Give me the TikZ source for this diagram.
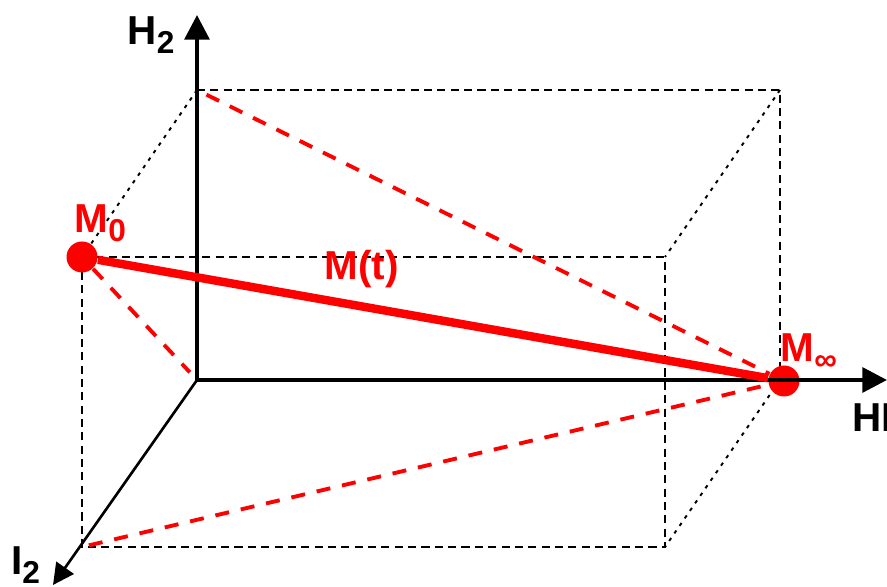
\documentclass[tikz,border=0pt]{standalone}
\usepackage{fontspec}
\setmainfont{Liberation Sans}
\usetikzlibrary{calc,arrows.meta}

\newcommand{\lowidx}[1]{\raisebox{-2.3pt}{\fontsize{9}{10}\selectfont #1}}

\begin{document}
\begin{tikzpicture}[
  boxedge/.style={black,line width=0.8pt,dash pattern=on 2.3pt off 1.5pt},
  depthedge/.style={black,line width=0.55pt,dash pattern=on 1pt off 1.6pt},
  redpath/.style={red,line width=1.1pt,dash pattern=on 4pt off 3.4pt},
  axis/.style={black,line width=1.2pt,-{Triangle[length=7pt,width=7pt]}},
  lbl/.style={font=\bfseries\fontsize{11.5}{13}\selectfont,inner sep=0pt,anchor=base west},
  dot/.style={circle,fill=red,minimum size=0.31cm,inner sep=0pt}
]
\useasboundingbox (0,0) rectangle (8.87,5.87);
% back corners and origin
\coordinate (O) at (1.97,2.07);
\coordinate (BTL) at (1.97,4.97);
\coordinate (BTR) at (7.80,4.97);
\coordinate (BBR) at (7.80,2.07);
% front corners
\coordinate (FTL) at ($(BTL)+(-1.15,-1.67)$);
\coordinate (FTR) at ($(BTR)+(-1.15,-1.67)$);
\coordinate (FBR) at ($(BBR)+(-1.15,-1.67)$);
\coordinate (FBL) at ($(O)+(-1.15,-1.67)$);
\coordinate (Htip) at (1.97,5.72);
\coordinate (HItip) at (8.87,2.07);
\coordinate (Itip) at (0.53,0.02);

\draw[boxedge] (BTL) -- (BTR) -- (BBR);
\draw[boxedge] (FTL) -- (FTR) -- (FBR) -- (FBL) -- cycle;
\draw[depthedge] (BTL) -- (FTL);
\draw[depthedge] (BTR) -- (FTR);
\draw[depthedge] (BBR) -- (FBR);

\node[dot] (M0) at (FTL) {};
\node[dot] (Minf) at (7.84,2.06) {};

\draw[redpath,shorten <=3pt] (BTL) -- (Minf);
\draw[redpath,shorten >=3pt] (M0) -- (O);
\draw[redpath,shorten <=2pt] (FBL) -- (Minf);

\draw[axis] (O) -- (Htip);
\draw[axis] (O) -- (HItip);
\draw[black,line width=0.75pt,-{Triangle[length=6pt,width=6pt]}] (O) -- (Itip);

\draw[red,line width=2.4pt] (M0) -- (Minf);

\node[lbl] (H2lbl) at (1.27,5.42) {H\lowidx{2}};
\node[lbl] (I2lbl) at (0.105,0.12) {I\lowidx{2}};
\node[lbl] (HIlbl) at (8.52,1.55) {HI};
\node[lbl,red] (M0lbl) at (0.74,3.54) {M\lowidx{0}};
\node[lbl,red] (Minflbl) at (7.80,2.25) {M\lowidx{∞}};
\node[lbl,red] (Mtlbl) at (3.24,3.07) {M(t)};
\end{tikzpicture}
\end{document}
